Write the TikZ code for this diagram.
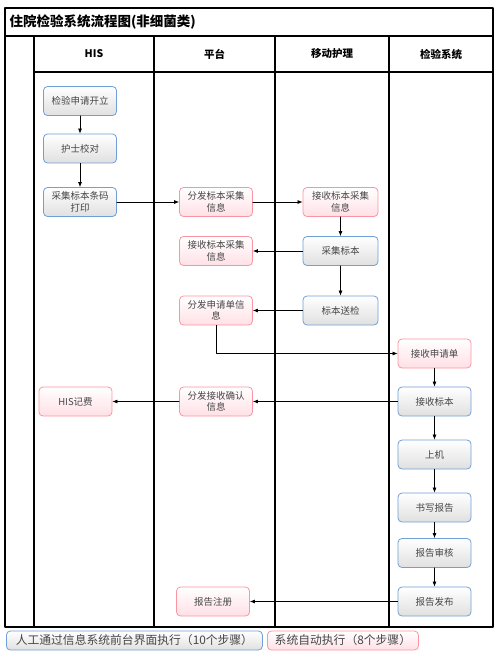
\documentclass[tikz,border=0pt]{standalone}
\usepackage{fontspec}
\setmainfont{Noto Sans CJK SC}
\usetikzlibrary{arrows.meta}

\definecolor{manline}{RGB}{112,160,214}
\definecolor{sysline}{RGB}{250,150,162}
\definecolor{mangray}{RGB}{224,224,224}
\definecolor{syspink}{RGB}{255,224,230}
\definecolor{boxtext}{RGB}{70,70,70}

\begin{document}
\begin{tikzpicture}[
						x=1pt, y=-1pt,
						line cap=round,
						line join=round,
						every node/.style={font=\fontsize{9.5}{11.5}\selectfont, text=boxtext},
						manbox/.style={draw=manline, line width=0.8pt, rounded corners=4pt, top color=white, bottom color=mangray, minimum width=73pt, minimum height=29pt, align=center, inner sep=1pt},
						sysbox/.style={manbox, draw=sysline, bottom color=syspink},
						flow/.style={-{Latex[length=5pt,width=4pt]}, line width=0.7pt, black},
						frame/.style={line width=1.1pt}
						]
						\useasboundingbox (0,0) rectangle (494,653);
						
						% Frame and lanes
						\draw[frame] (5,8) rectangle (493,627);
						\draw[frame] (5,36) -- (493,36);
						\draw[frame] (34,72) -- (493,72);
						\foreach \x in {34,154,275,389}
							\draw[frame] (\x,36) -- (\x,627);
						
						% Title and lane headers
						\node[anchor=west, text=black, font=\fontsize{13.5}{15}\selectfont\bfseries] (title) at (6,22) {住院检验系统流程图(非细菌类)};
						\node[text=black, font=\fontsize{10.5}{12}\selectfont\bfseries] (hhis) at (94,54) {HIS};
						\node[text=black, font=\fontsize{10.5}{12}\selectfont\bfseries] (hplat) at (214.5,54) {平台};
						\node[text=black, font=\fontsize{10.5}{12}\selectfont\bfseries] (hnurse) at (332,54) {移动护理};
						\node[text=black, font=\fontsize{10.5}{12}\selectfont\bfseries] (hlab) at (441,54) {检验系统};
						
						% HIS
						\node[manbox] (his1) at (80,101) {检验申请开立};
						\node[manbox] (his2) at (80,148.5) {护士校对};
						\node[manbox] (his3) at (80,202) {采集标本条码\\打印};
						\node[sysbox] (his4) at (75.5,401.5) {HIS记费};
						
						% Platform
						\node[sysbox] (plat1) at (216,202) {分发标本采集\\信息};
						\node[sysbox] (plat2) at (216,251) {接收标本采集\\信息};
						\node[sysbox] (plat3) at (216,310.5) {分发申请单信\\息};
						\node[sysbox] (plat4) at (216,401.5) {分发接收确认\\信息};
						\node[sysbox] (plat5) at (213,601.5) {报告注册};
						
						% Mobile nursing
						\node[sysbox, minimum width=75pt] (nurse1) at (340.5,202) {接收标本采集\\信息};
						\node[manbox, minimum width=75pt] (nurse2) at (340.5,251) {采集标本};
						\node[manbox, minimum width=75pt] (nurse3) at (340.5,310.5) {标本送检};
						
						% Lab system
						\node[sysbox] (lab1) at (434.5,353.5) {接收申请单};
						\node[manbox] (lab2) at (434.5,401.5) {接收标本};
						\node[manbox] (lab3) at (434.5,454.5) {上机};
						\node[manbox] (lab4) at (434.5,507.5) {书写报告};
						\node[manbox] (lab5) at (434.5,553) {报告审核};
						\node[manbox] (lab6) at (434.5,601.5) {报告发布};
						
						% Connectors
						\draw[flow] (his1) -- (his2);
						\draw[flow] (his2) -- (his3);
						\draw[flow] (his3) -- (plat1);
						\draw[flow] (plat1) -- (nurse1);
						\draw[flow] (nurse1) -- (nurse2);
						\draw[flow] (nurse2) -- (plat2);
						\draw[flow] (nurse2) -- (nurse3);
						\draw[flow] (nurse3) -- (plat3);
						\draw[flow] (plat3.south) |- (lab1.west);
						\draw[flow] (lab1) -- (lab2);
						\draw[flow] (lab2) -- (plat4);
						\draw[flow] (plat4) -- (his4);
						\draw[flow] (lab2) -- (lab3);
						\draw[flow] (lab3) -- (lab4);
						\draw[flow] (lab4) -- (lab5);
						\draw[flow] (lab5) -- (lab6);
						\draw[flow] (lab6) -- (plat5);
						
						% Legend
						\node[manbox, anchor=west, minimum width=256pt, minimum height=19pt, font=\fontsize{11.8}{13}\selectfont] (keyman) at (6,640.5) {人工通过信息系统前台界面执行（10个步骤）};
						\node[sysbox, anchor=west, minimum width=151pt, minimum height=19pt, font=\fontsize{11.8}{13}\selectfont] (keysys) at (267,640.5) {系统自动执行（8个步骤）};
						
					\end{tikzpicture}
\end{document}
